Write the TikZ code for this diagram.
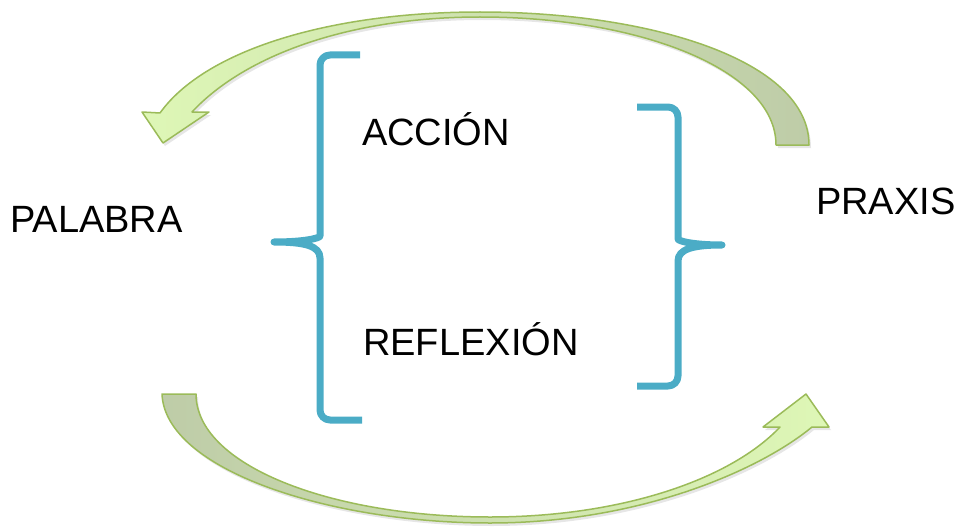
\documentclass[tikz,border=0pt]{standalone}
\usepackage{fontspec}
\setmainfont{Liberation Sans}
\usepackage{xcolor}
\usepackage{tikz}
\usetikzlibrary{shadows}
\definecolor{verdeclaro}{RGB}{222,247,182}
\definecolor{verdegris}{RGB}{190,204,168}
\definecolor{verdeborde}{RGB}{155,187,89}
\definecolor{azul}{RGB}{75,172,198}

\begin{document}
\begin{tikzpicture}[x=1pt, y=-1pt,
    texto/.style={font=\fontsize{38}{45}\selectfont, inner sep=0pt, anchor=base west},
    llave/.style={draw=azul, line width=7pt, line join=round},
    flecha/.style={draw=verdeborde, line width=1.5pt, line join=round,
        drop shadow={opacity=0.2, shadow xshift=2pt, shadow yshift=-3pt}}]
    \useasboundingbox (0,0) rectangle (956,527);

    % Flecha superior: de PRAXIS hacia PALABRA
    \path[flecha, left color=verdeclaro, right color=verdegris]
        (809,145) .. controls (809,60) and (650,12) .. (480,12)
        .. controls (330,12) and (205,50) .. (160,113)
        -- (142,112) -- (163,143) -- (209,112) -- (192,112)
        .. controls (245,55) and (350,17) .. (480,17)
        .. controls (640,17) and (776,70) .. (776,145) -- cycle;

    % Flecha inferior: de PALABRA hacia PRAXIS
    \path[flecha, left color=verdegris, right color=verdeclaro]
        (162,394) .. controls (165,470) and (330,523) .. (490,523)
        .. controls (640,523) and (760,470) .. (812,427)
        -- (829,427) -- (806,394) -- (763,427) -- (780,427)
        .. controls (730,480) and (620,517) .. (490,517)
        .. controls (330,517) and (196,465) .. (196,394) -- cycle;

    % Llave izquierda
    \draw[llave] {[rounded corners=10] (360,55) -- (320,55) -- (320,226)}
        .. controls (320,238) and (305,242) .. (274,242)
        .. controls (305,242) and (320,246) .. (320,258)
        {[rounded corners=10] -- (320,420) -- (362,420)};

    % Llave derecha
    \draw[llave] {[rounded corners=10] (637,107) -- (678,107) -- (678,229)}
        .. controls (678,241) and (693,245) .. (722,245)
        .. controls (693,245) and (678,249) .. (678,261)
        {[rounded corners=10] -- (678,386) -- (637,386)};

    % Textos
    \node[texto] (palabra) at (10,232) {PALABRA};
    \node[texto] (praxis) at (816,214) {PRAXIS};
    \node[texto] (accion) at (362,145) {ACCIÓN};
    \node[texto] (reflexion) at (363,355) {REFLEXIÓN};
\end{tikzpicture}
\end{document}
